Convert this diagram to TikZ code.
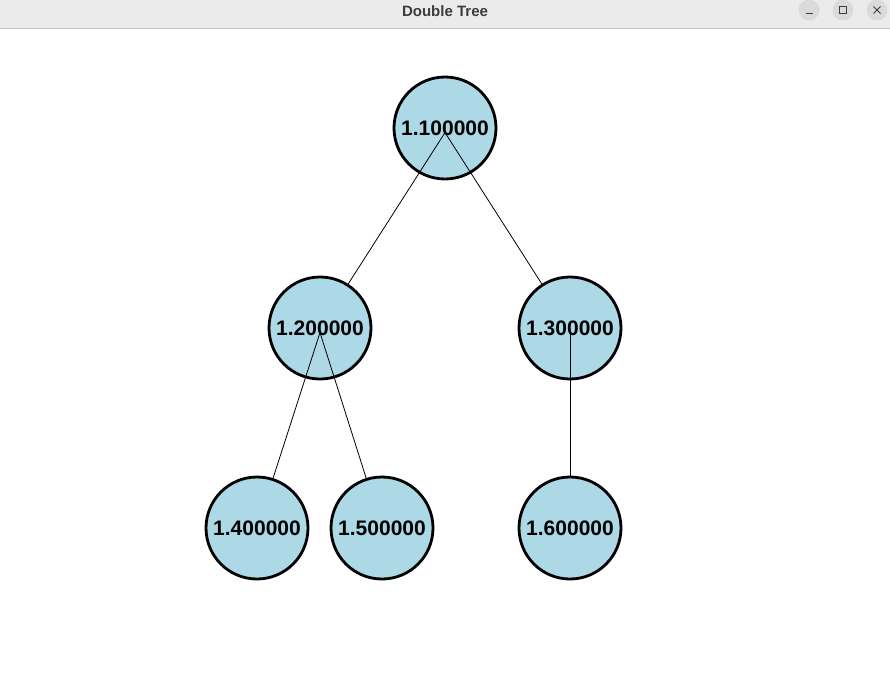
\documentclass[tikz,border=0pt]{standalone}
\usepackage{fontspec}
\setmainfont{Liberation Sans}
\usepackage{xcolor}
\usepackage{tikz}
\definecolor{nodeblue}{RGB}{173,216,230}
\definecolor{bargray}{RGB}{235,235,235}
\definecolor{barline}{RGB}{200,200,200}
\definecolor{btngray}{RGB}{218,218,218}
\definecolor{titlegray}{RGB}{60,60,60}
\tikzset{
  treenode/.style={circle, draw=black, line width=2.8pt, fill=nodeblue,
    minimum size=102pt, inner sep=0pt,
    font=\fontsize{21}{25}\selectfont\bfseries},
  treeedge/.style={draw=black, line width=0.8pt},
  winbtn/.style={circle, fill=btngray, minimum size=21pt, inner sep=0pt}
}

\begin{document}
\begin{tikzpicture}[x=1pt, y=-1pt]
  \useasboundingbox (0,0) rectangle (890,697);
  % window title bar
  \fill[white] (0,0) rectangle (890,697);
  \fill[bargray] (0,0) rectangle (890,28);
  \draw[barline, line width=1pt] (0,28) -- (890,28);
  \node[text=titlegray, font=\fontsize{15}{17}\selectfont\bfseries] (title) at (445,11) {Double Tree};
  \node[winbtn] (btnmin) at (809,10) {};
  \node[winbtn] (btnmax) at (843,10) {};
  \node[winbtn] (btnclose) at (877,10) {};
  \draw[titlegray, line width=1pt] ([xshift=-3.5pt, yshift=-3pt]btnmin.center) -- ([xshift=3.5pt, yshift=-3pt]btnmin.center);
  \draw[titlegray, line width=1pt] ([xshift=-3.5pt, yshift=-3.5pt]btnmax.center) rectangle ([xshift=3.5pt, yshift=3.5pt]btnmax.center);
  \draw[titlegray, line width=1pt] ([xshift=-3.5pt, yshift=-3.5pt]btnclose.center) -- ([xshift=3.5pt, yshift=3.5pt]btnclose.center)
    ([xshift=-3.5pt, yshift=3.5pt]btnclose.center) -- ([xshift=3.5pt, yshift=-3.5pt]btnclose.center);

  % tree nodes
  \node[treenode] (n11) at (445,128) {1.100000};
  \node[treenode] (n12) at (320,328) {1.200000};
  \node[treenode] (n13) at (570,328) {1.300000};
  \node[treenode] (n14) at (257,528) {1.400000};
  \node[treenode] (n15) at (382,528) {1.500000};
  \node[treenode] (n16) at (570,528) {1.600000};

  % edges from parent centre to child border
  \draw[treeedge] (n11.mid) -- (n12);
  \draw[treeedge] (n11.mid) -- (n13);
  \draw[treeedge] (n12.mid) -- (n14);
  \draw[treeedge] (n12.mid) -- (n15);
  \draw[treeedge] (n13.mid) -- (n16);
\end{tikzpicture}
\end{document}
